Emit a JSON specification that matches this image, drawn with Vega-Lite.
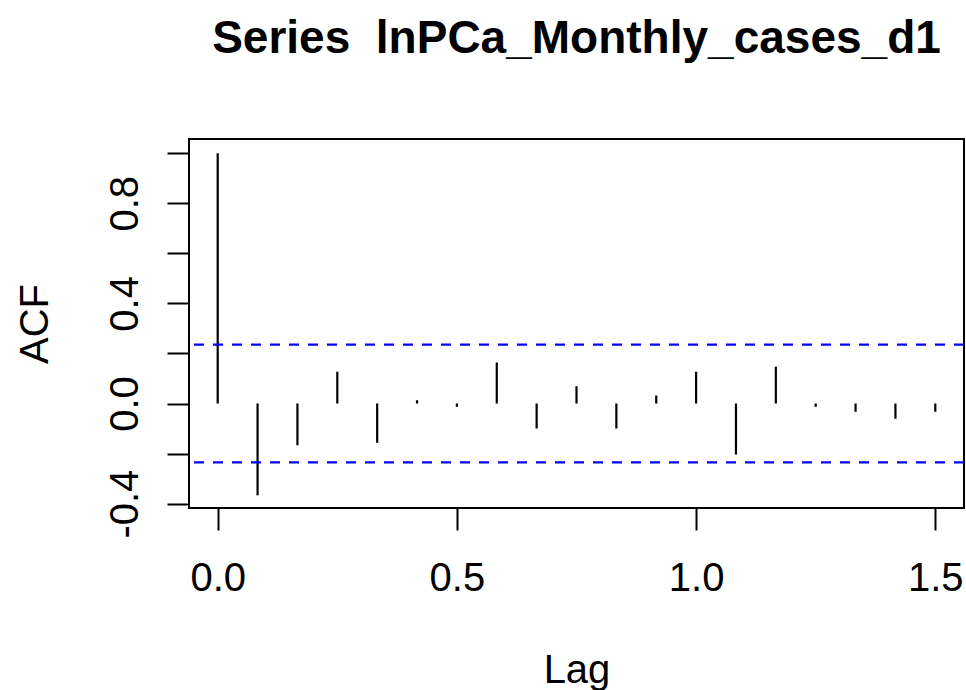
{
  "$schema": "https://vega.github.io/schema/vega-lite/v6.json",
  "width": 775,
  "height": 369,
  "autosize": {"type": "none"},
  "padding": {"left": 189, "top": 139, "right": 2, "bottom": 182},
  "background": "white",
  "title": {
    "text": "Series \u00a0lnPCa_Monthly_cases_d1",
    "font": "Liberation Sans",
    "fontSize": 46,
    "fontWeight": "bold",
    "color": "black",
    "anchor": "middle",
    "baseline": "alphabetic",
    "offset": 40
  },
  "config": {
    "view": {"stroke": "black", "strokeWidth": 2},
    "axis": {
      "labelFont": "Liberation Sans",
      "titleFont": "Liberation Sans",
      "labelFontSize": 40,
      "titleFontSize": 40,
      "titleFontWeight": "normal",
      "labelColor": "black",
      "titleColor": "black",
      "tickColor": "black",
      "tickWidth": 2,
      "tickSize": 22,
      "domain": false,
      "grid": false,
      "labelOverlap": false
    }
  },
  "layer": [
    {
      "data": {"values": [
        {"lag": 0.0, "acf": 1.0},
        {"lag": 0.08333, "acf": -0.367},
        {"lag": 0.16667, "acf": -0.167},
        {"lag": 0.25, "acf": 0.127},
        {"lag": 0.33333, "acf": -0.157},
        {"lag": 0.41667, "acf": 0.013},
        {"lag": 0.5, "acf": -0.013},
        {"lag": 0.58333, "acf": 0.164},
        {"lag": 0.66667, "acf": -0.1},
        {"lag": 0.75, "acf": 0.069},
        {"lag": 0.83333, "acf": -0.1},
        {"lag": 0.91667, "acf": 0.032},
        {"lag": 1.0, "acf": 0.127},
        {"lag": 1.08333, "acf": -0.204},
        {"lag": 1.16667, "acf": 0.147},
        {"lag": 1.25, "acf": -0.013},
        {"lag": 1.33333, "acf": -0.033},
        {"lag": 1.41667, "acf": -0.061},
        {"lag": 1.5, "acf": -0.033}
      ]},
      "mark": {"type": "rule", "color": "black", "strokeWidth": 2.2},
      "encoding": {
        "x": {
          "field": "lag", "type": "quantitative",
          "scale": {"domain": [-0.06, 1.56], "nice": false, "zero": false},
          "axis": {
            "title": "Lag",
            "values": [0, 0.5, 1, 1.5],
            "format": ".1f",
            "labelBaseline": "alphabetic",
            "labelPadding": 60,
            "titleBaseline": "alphabetic",
            "titleY": 174
          }
        },
        "y": {
          "field": "acf", "type": "quantitative",
          "scale": {"domain": [-0.4176, 1.057], "nice": false, "zero": false},
          "axis": {
            "title": "ACF",
            "values": [-0.4, -0.2, 0, 0.2, 0.4, 0.6, 0.8, 1.0],
            "labelExpr": "round(datum.value*10)%4==0 ? (datum.value<0 ? '-' : '') + format(abs(datum.value), '.1f') : ''",
            "labelAngle": -90,
            "labelAlign": "center",
            "labelBaseline": "alphabetic",
            "labelPadding": 30,
            "titleAngle": -90,
            "titleAlign": "center",
            "titleBaseline": "alphabetic",
            "titleX": -142
          }
        },
        "y2": {"datum": 0}
      }
    },
    {
      "mark": {"type": "rule", "color": "black", "strokeWidth": 2.2},
      "encoding": {"y": {"datum": 0}}
    },
    {
      "data": {"values": [{"clim": 0.235}, {"clim": -0.235}]},
      "mark": {"type": "rule", "color": "#0000ff", "strokeWidth": 2.2, "strokeDash": [10, 9]},
      "encoding": {"y": {"field": "clim", "type": "quantitative"}}
    }
  ]
}
